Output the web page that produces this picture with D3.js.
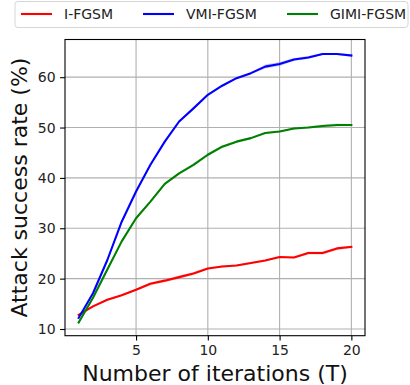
<!DOCTYPE html>
<html>
<head>
<meta charset="utf-8">
<script src="https://cdn.jsdelivr.net/npm/d3@7"></script>
<style>
  body { margin: 0; background: #fff; }
  svg { font-family: "DejaVu Sans", sans-serif; }
</style>
</head>
<body>
<svg id="canvas" width="410" height="385"></svg>
<script>
let iterations = [1, 2, 3, 4, 5, 6, 7, 8, 9, 10, 11, 12, 13, 14, 15, 16, 17, 18, 19, 20]

let ifgsm = [12.8, 14.5, 15.8, 16.7, 17.8, 19.0, 19.6, 20.3, 21.0, 22.0, 22.4, 22.6, 23.1, 23.6, 24.3, 24.2, 25.1, 25.1, 26.0, 26.3]
let vmifgsm = [12.2, 17.1, 23.7, 31.3, 37.3, 42.6, 47.2, 51.2, 53.8, 56.5, 58.3, 59.8, 60.8, 62.1, 62.6, 63.5, 63.9, 64.6, 64.6, 64.3]
let gimifgsm = [11.3, 16.2, 21.8, 27.4, 32.0, 35.3, 38.8, 40.9, 42.6, 44.6, 46.2, 47.2, 47.9, 48.9, 49.2, 49.8, 50.0, 50.3, 50.5, 50.5]

// small spread shown as a faint band round each line
let ifgsmSpread = [0.2, 0.2, 0.2, 0.2, 0.2, 0.3, 0.3, 0.3, 0.3, 0.2, 0.2, 0.2, 0.2, 0.2, 0.2, 0.2, 0.3, 0.3, 0.3, 0.2]
let vmifgsmSpread = [0.2, 0.2, 0.2, 0.2, 0.2, 0.2, 0.2, 0.2, 0.2, 0.2, 0.2, 0.2, 0.2, 0.4, 0.4, 0.3, 0.3, 0.2, 0.2, 0.2]
let gimifgsmSpread = [0.2, 0.2, 0.2, 0.2, 0.2, 0.2, 0.2, 0.2, 0.3, 0.3, 0.3, 0.2, 0.2, 0.2, 0.2, 0.2, 0.2, 0.3, 0.3, 0.2]

let xTicks = [5, 10, 15, 20]
let yTicks = [10, 20, 30, 40, 50, 60]

let seriesNames = ["I-FGSM", "VMI-FGSM", "GIMI-FGSM"]
let seriesColors = ["#ff0000", "#0000ff", "#008000"]

let canvas = d3.select("#canvas")

let plotLeft = 65, plotRight = 365, plotTop = 39.5, plotBottom = 335.7

let xScale = d3.scaleLinear().domain([0.05, 20.95]).range([plotLeft, plotRight])
let yScale = d3.scaleLinear().domain([8.67, 67.48]).range([plotBottom, plotTop])

let series = [
  { name: seriesNames[0], color: seriesColors[0], values: ifgsm, spread: ifgsmSpread },
  { name: seriesNames[1], color: seriesColors[1], values: vmifgsm, spread: vmifgsmSpread },
  { name: seriesNames[2], color: seriesColors[2], values: gimifgsm, spread: gimifgsmSpread }
]

// grid
canvas.append("g")
  .selectAll("line")
  .data(xTicks)
  .enter()
  .append("line")
  .attr("x1", d => xScale(d))
  .attr("x2", d => xScale(d))
  .attr("y1", plotTop)
  .attr("y2", plotBottom)
  .attr("stroke", "#b0b0b0")
  .attr("stroke-width", 1.1)

canvas.append("g")
  .selectAll("line")
  .data(yTicks)
  .enter()
  .append("line")
  .attr("x1", plotLeft)
  .attr("x2", plotRight)
  .attr("y1", d => yScale(d))
  .attr("y2", d => yScale(d))
  .attr("stroke", "#b0b0b0")
  .attr("stroke-width", 1.1)

let band = d3.area()
  .x((d, i) => xScale(iterations[i]))
  .y0(d => yScale(d[0] - d[1]))
  .y1(d => yScale(d[0] + d[1]))

let line = d3.line()
  .x((d, i) => xScale(iterations[i]))
  .y(d => yScale(d))

series.forEach((s) => {
  canvas.append("path")
    .attr("d", band(s.values.map((v, i) => [v, s.spread[i]])))
    .attr("fill", s.color)
    .attr("fill-opacity", 0.2)

  canvas.append("path")
    .attr("d", line(s.values))
    .attr("fill", "none")
    .attr("stroke", s.color)
    .attr("stroke-width", 2.1)
    .attr("stroke-linejoin", "round")
    .attr("stroke-linecap", "square")
})

// axes
let xAxis = d3.axisBottom(xScale).tickValues(xTicks).tickSize(4.9).tickPadding(4.5)
let yAxis = d3.axisLeft(yScale).tickValues(yTicks).tickSize(4.9).tickPadding(4.5)

let gx = canvas.append("g").attr("transform", `translate(0,${plotBottom})`).call(xAxis)
let gy = canvas.append("g").attr("transform", `translate(${plotLeft},0)`).call(yAxis)

;[gx, gy].forEach((g) => {
  g.select(".domain").remove()
  g.selectAll("line").attr("stroke", "#000").attr("stroke-width", 1.1)
  g.selectAll("text")
    .attr("font-family", "DejaVu Sans")
    .attr("font-size", 14)
    .attr("fill", "#222")
})

canvas.append("rect")
  .attr("x", plotLeft)
  .attr("y", plotTop)
  .attr("width", plotRight - plotLeft)
  .attr("height", plotBottom - plotTop)
  .attr("fill", "none")
  .attr("stroke", "#000")
  .attr("stroke-width", 1.1)

// labels
canvas.append("text")
  .attr("x", (plotLeft + plotRight) / 2)
  .attr("y", 381)
  .attr("text-anchor", "middle")
  .attr("font-size", 22)
  .attr("fill", "#111")
  .text("Number of iterations (T)")

canvas.append("text")
  .attr("transform", `translate(27,${(plotTop + plotBottom) / 2}) rotate(-90)`)
  .attr("text-anchor", "middle")
  .attr("font-size", 22)
  .attr("fill", "#111")
  .text("Attack success rate (%)")

// legend
let legend = canvas.append("g")

legend.append("rect")
  .attr("x", 15)
  .attr("y", 1.5)
  .attr("width", 393)
  .attr("height", 26)
  .attr("rx", 3)
  .attr("fill", "#fff")
  .attr("stroke", "#d6d6d6")
  .attr("stroke-width", 1)

let legendX = [21, 143, 287]

let items = legend.selectAll("g.item")
  .data(series)
  .enter()
  .append("g")
  .attr("class", "item")
  .attr("transform", (d, i) => `translate(${legendX[i]},14)`)

items.append("line")
  .attr("x1", 0)
  .attr("x2", 31)
  .attr("stroke", d => d.color)
  .attr("stroke-width", 2.1)

items.append("text")
  .attr("x", 43)
  .attr("y", 5)
  .attr("font-size", 14)
  .attr("fill", "#222")
  .text(d => d.name)
</script>
</body>
</html>
